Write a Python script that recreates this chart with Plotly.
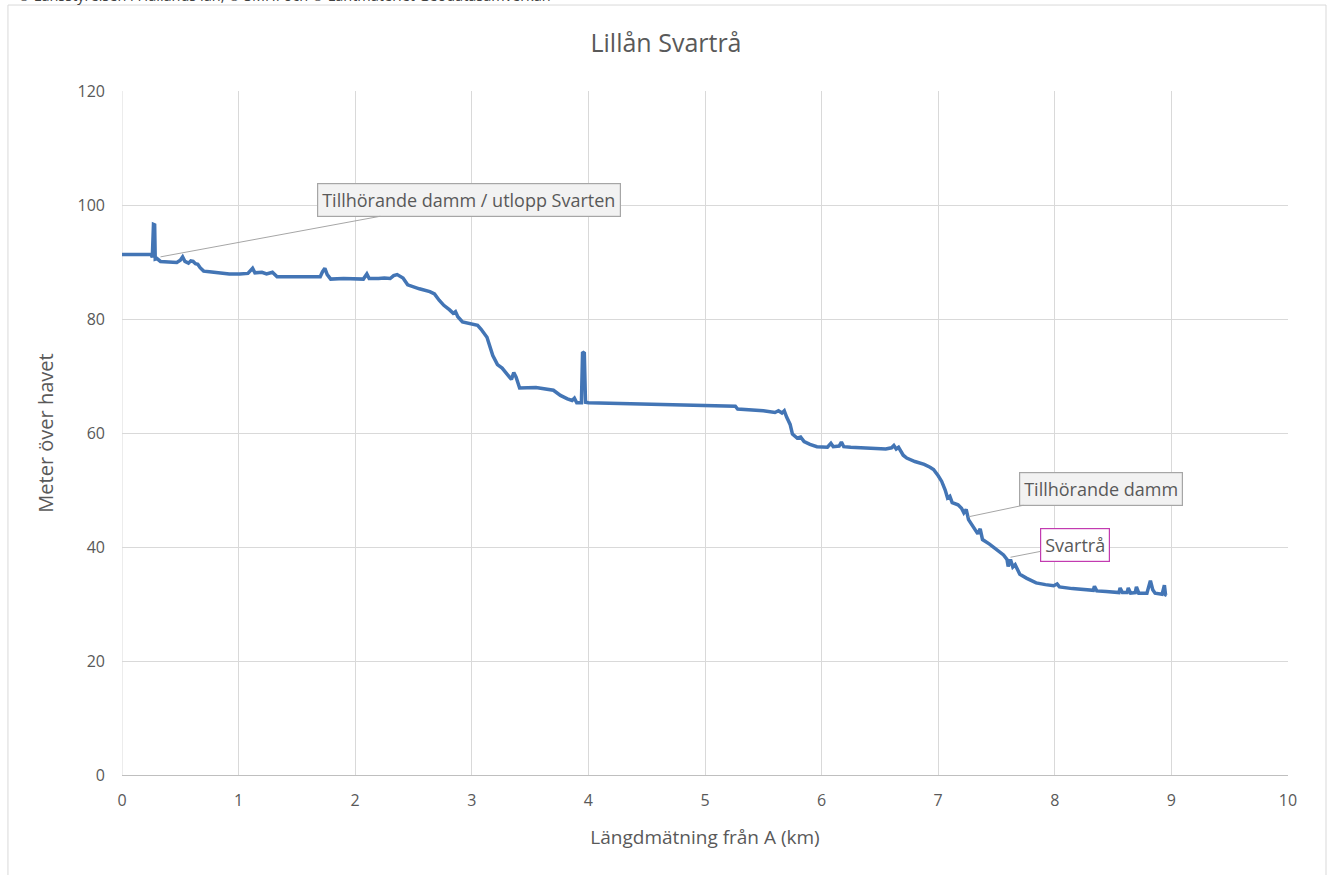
import plotly.graph_objects as go

# Distance along the river (km) and elevation (m above sea level)
distance_km = [
    0.00, 0.25, 0.26, 0.27, 0.28, 0.285, 0.30, 0.33, 0.40, 0.47, 0.50, 0.52, 0.54, 0.57, 0.59,
    0.61, 0.63, 0.65, 0.67, 0.70, 0.75, 0.84, 0.92, 1.01, 1.08, 1.12, 1.14, 1.20, 1.24, 1.29,
    1.31, 1.33, 1.50, 1.70, 1.72, 1.74, 1.76, 1.79, 1.90, 2.00, 2.07, 2.10, 2.12, 2.20, 2.25,
    2.30, 2.33, 2.36, 2.39, 2.41, 2.45, 2.50, 2.55, 2.64, 2.68, 2.72, 2.76, 2.81, 2.84, 2.86,
    2.88, 2.92, 2.96, 3.05, 3.08, 3.13, 3.18, 3.22, 3.26, 3.30, 3.34, 3.36, 3.38, 3.41, 3.50,
    3.55, 3.70, 3.76, 3.82, 3.86, 3.88, 3.90, 3.94, 3.95, 3.965, 3.975, 4.00, 4.20, 4.40, 4.60,
    4.80, 5.00, 5.26, 5.28, 5.40, 5.50, 5.60, 5.63, 5.66, 5.68, 5.70, 5.73, 5.75, 5.79, 5.82,
    5.85, 5.90, 5.96, 6.05, 6.08, 6.10, 6.15, 6.17, 6.19, 6.25, 6.40, 6.55, 6.60, 6.62, 6.64,
    6.66, 6.70, 6.73, 6.80, 6.88, 6.93, 6.96, 7.00, 7.03, 7.06, 7.08, 7.10, 7.12, 7.17, 7.20,
    7.22, 7.24, 7.26, 7.30, 7.34, 7.36, 7.38, 7.44, 7.50, 7.56, 7.59, 7.60, 7.62, 7.64, 7.66,
    7.70, 7.76, 7.84, 7.92, 7.99, 8.02, 8.04, 8.15, 8.27, 8.33, 8.34, 8.36, 8.44, 8.55, 8.56,
    8.58, 8.62, 8.63, 8.65, 8.69, 8.70, 8.72, 8.79, 8.81, 8.82, 8.84, 8.86, 8.92, 8.94, 8.95,
    8.96,
]
elevation_m = [
    91.3, 91.3, 90.8, 96.6, 96.5, 90.5, 90.6, 90.1, 90.0, 89.9, 90.3, 90.9, 90.1, 89.8, 90.2,
    90.1, 89.7, 89.6, 89.0, 88.4, 88.3, 88.1, 87.9, 87.9, 88.0, 88.9, 88.1, 88.2, 87.9, 88.2,
    87.7, 87.4, 87.4, 87.4, 88.3, 88.9, 87.8, 87.0, 87.1, 87.0, 87.0, 87.9, 87.1, 87.1, 87.2,
    87.1, 87.6, 87.8, 87.5, 87.2, 86.0, 85.6, 85.3, 84.8, 84.4, 83.3, 82.4, 81.6, 81.0, 81.3,
    80.4, 79.5, 79.3, 78.9, 78.2, 76.8, 73.6, 72.0, 71.4, 70.3, 69.4, 70.6, 69.8, 67.9, 67.9,
    68.0, 67.5, 66.6, 66.0, 65.7, 66.1, 65.3, 65.3, 74.2, 74.0, 65.4, 65.3, 65.2, 65.2, 65.0,
    64.9, 64.8, 64.7, 64.2, 64.1, 63.9, 63.6, 63.9, 63.5, 63.9, 62.8, 61.5, 59.8, 59.1, 59.3,
    58.5, 58.0, 57.6, 57.5, 58.2, 57.6, 57.7, 58.4, 57.6, 57.5, 57.3, 57.2, 57.4, 57.8, 57.2,
    57.5, 56.1, 55.6, 55.0, 54.5, 54.0, 53.6, 52.5, 51.5, 50.0, 48.6, 48.9, 47.8, 47.4, 46.8,
    46.0, 46.6, 44.8, 43.6, 42.3, 43.2, 41.3, 40.5, 39.5, 38.6, 37.8, 36.6, 37.8, 36.5, 36.9,
    35.2, 34.5, 33.7, 33.4, 33.2, 33.5, 33.0, 32.7, 32.5, 32.4, 33.1, 32.3, 32.2, 32.0, 32.8,
    32.0, 32.0, 32.8, 31.9, 32.0, 33.0, 31.9, 31.9, 33.8, 34.1, 32.5, 31.9, 31.7, 33.3, 31.6,
    31.5,
]

x_ticks = [0, 1, 2, 3, 4, 5, 6, 7, 8, 9, 10]
y_ticks = [0, 20, 40, 60, 80, 100, 120]

title_text = "Lillån Svartrå"
x_title = "Längdmätning från A (km)"
y_title = "Meter över havet"
credit_text = "© Länsstyrelsen i Hallands län, © SMHI och © Lantmäteriet Geodatasamverkan"

callout_labels = ["Tillhörande damm / utlopp Svarten", "Tillhörande damm", "Svartrå"]
callout_tip_x = [0.33, 7.26, 7.62]
callout_tip_y = [90.9, 45.3, 38.2]
callout_box_x = [2.976, 8.40, 8.17]
callout_box_y = [100.9, 50.2, 40.4]

FONT = "Open Sans"
TXT = "#595959"
GRID = "#d9d9d9"

fig = go.Figure()
fig.add_trace(go.Scatter(
    x=distance_km, y=elevation_m, mode="lines",
    line=dict(color="#4375b5", width=3.5),
    hoverinfo="x+y", showlegend=False,
))

box_styles = [
    dict(bgcolor="#f2f2f2", bordercolor="#a6a6a6"),
    dict(bgcolor="#f2f2f2", bordercolor="#a6a6a6"),
    dict(bgcolor="#ffffff", bordercolor="#c23bb0"),
]
for lab, tx, ty, bx, by, st in zip(callout_labels, callout_tip_x, callout_tip_y,
                                   callout_box_x, callout_box_y, box_styles):
    fig.add_annotation(
        x=tx, y=ty, xref="x", yref="y",
        ax=bx, ay=by, axref="x", ayref="y",
        text=lab, showarrow=True, arrowhead=0, arrowwidth=1, arrowcolor="#a6a6a6",
        font=dict(family=FONT, size=18, color=TXT),
        bgcolor=st["bgcolor"], bordercolor=st["bordercolor"], borderwidth=1.2, borderpad=4,
    )

fig.add_annotation(
    x=-0.091, y=1, xref="paper", yref="paper", xanchor="left", yanchor="bottom",
    yshift=84, text=credit_text, showarrow=False,
    font=dict(family=FONT, size=14.5, color="#404040"),
)

fig.add_shape(
    type="rect", xref="paper", yref="paper",
    x0=-0.0978, x1=1.0326, y0=-0.16, y1=1.1257,
    line=dict(color=GRID, width=1), fillcolor="rgba(0,0,0,0)", layer="below",
)

fig.update_layout(
    width=1332, height=875,
    margin=dict(l=122, r=44, t=91, b=100, autoexpand=False),
    paper_bgcolor="white", plot_bgcolor="white",
    title=dict(text=title_text, x=0.5, xanchor="center", y=0.951, yanchor="middle",
               font=dict(family=FONT, size=25, color=TXT)),
    font=dict(family=FONT, color=TXT),
    xaxis=dict(
        range=[0, 10], tickvals=x_ticks, showgrid=True, gridcolor=GRID, gridwidth=1,
        zeroline=False, showline=True, linecolor="#bfbfbf", linewidth=1,
        ticks="", ticklabelstandoff=11, tickfont=dict(family=FONT, size=16, color=TXT),
        title=dict(text=x_title, font=dict(family=FONT, size=19, color=TXT), standoff=20),
    ),
    yaxis=dict(
        range=[0, 120], tickvals=y_ticks, showgrid=True, gridcolor=GRID, gridwidth=1,
        zeroline=False, showline=False,
        ticks="", ticklabelstandoff=16, tickfont=dict(family=FONT, size=16, color=TXT),
        title=dict(text=y_title, font=dict(family=FONT, size=20, color=TXT), standoff=18),
    ),
)
fig.add_vline(x=0, line=dict(color=GRID, width=1), layer="below")

fig.write_html("out.html", config={"displayModeBar": False},
               post_script="document.body.style.margin='0';")
